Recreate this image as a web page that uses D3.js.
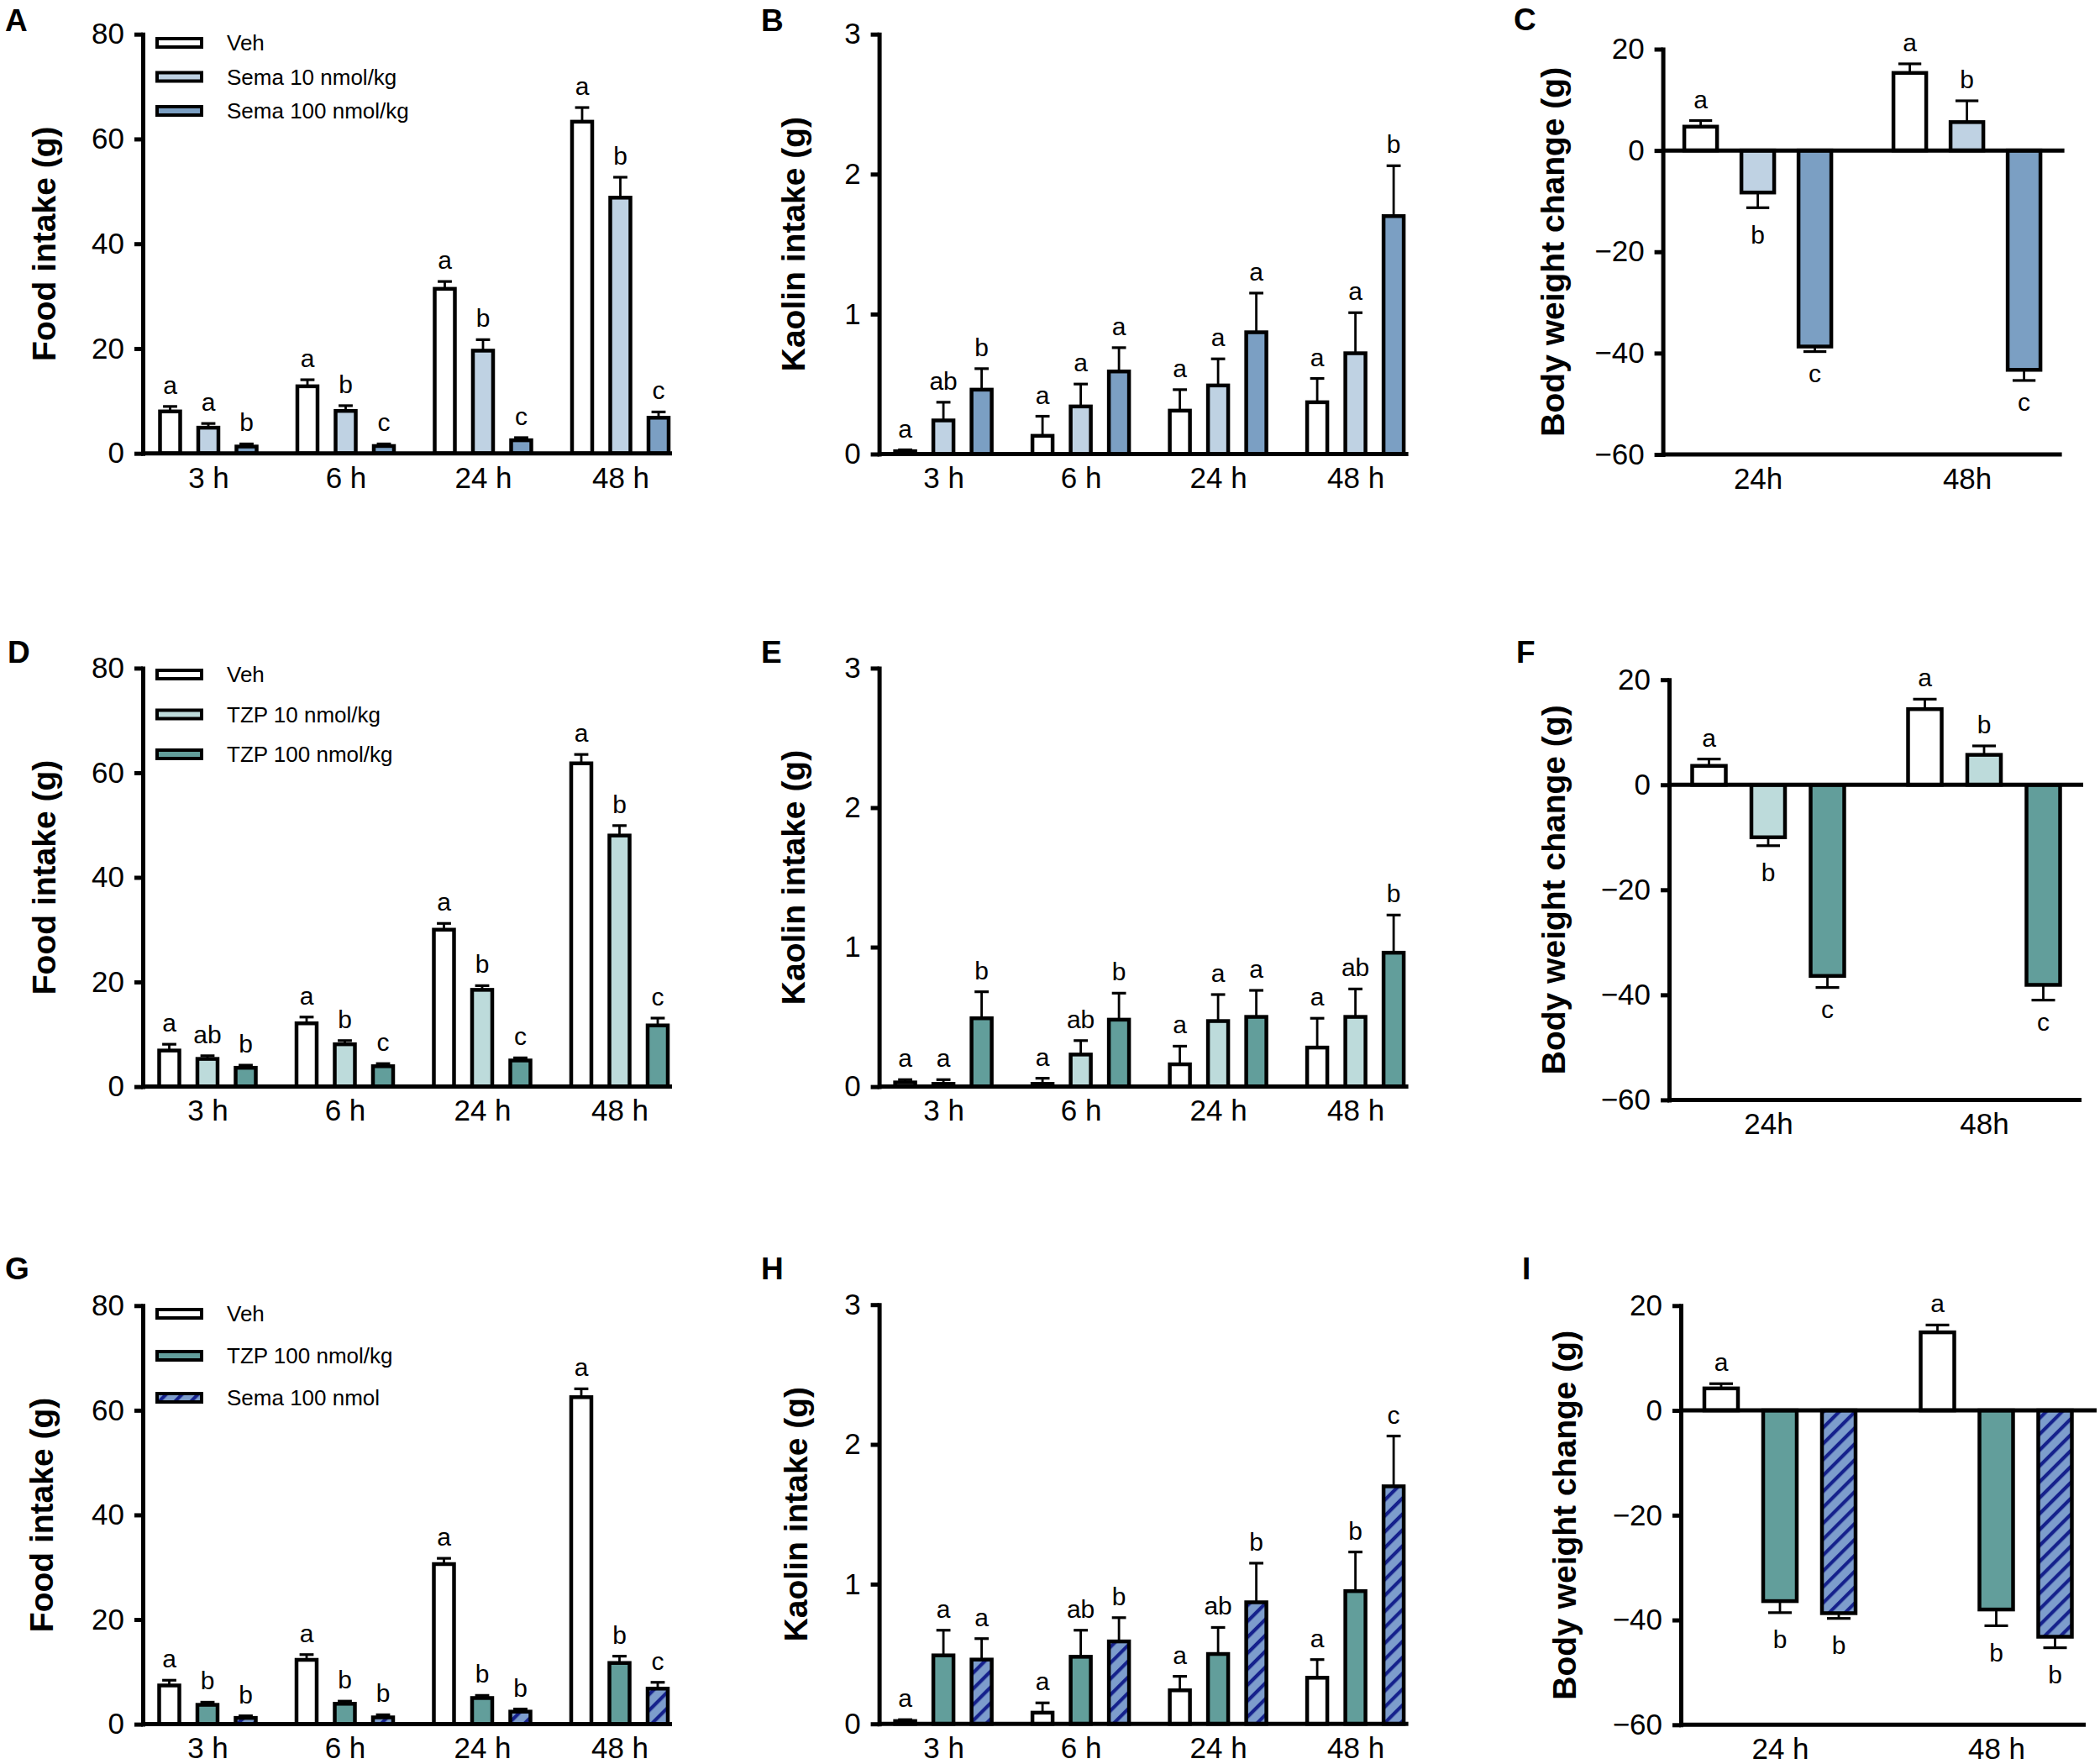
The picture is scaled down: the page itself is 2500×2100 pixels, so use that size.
<!DOCTYPE html>
<html>
<head>
<meta charset="utf-8">
<script src="https://cdn.jsdelivr.net/npm/d3@7"></script>
<style>
  body { margin: 0; background: #fff; }
</style>
</head>
<body>
<svg id="fig" width="2500" height="2100"></svg>
<script>
var FONT = "'Liberation Sans', Arial, Helvetica, sans-serif";

// ---- categories / ticks ----
var hours = ["3 h", "6 h", "24 h", "48 h"];
var daysC = ["24h", "48h"];
var daysI = ["24 h", "48 h"];
var foodTicks = [0, 20, 40, 60, 80];
var kaolinTicks = [0, 1, 2, 3];
var bwTicks = [-60, -40, -20, 0, 20];

// ---- colours ----
var cVeh = "#ffffff", cSemaLo = "#bfd2e3", cSemaHi = "#7b9fc3";
var cTzpLo = "#bddbdb", cTzpHi = "#629e9b";
var hatchFill = "#7d9dcc", hatchLine = "#15218c";

// ---- A: food intake, Sema ----
var foodVehA = [8.0, 12.8, 31.4, 63.3],   foodVehAErr = [0.95, 1.25, 1.4, 2.7];
var foodSemaLoA = [4.9, 8.1, 19.6, 48.8], foodSemaLoAErr = [0.8, 1.0, 2.1, 3.9];
var foodSemaHiA = [1.3, 1.4, 2.5, 6.8],   foodSemaHiAErr = [0.5, 0.4, 0.5, 1.1];
var lettersA = [["a","a","a","a"], ["a","b","b","b"], ["b","c","c","c"]];

// ---- B: kaolin, Sema ----
var kaoVehB = [0.02, 0.13, 0.31, 0.37],    kaoVehBErr = [0.01, 0.14, 0.15, 0.17];
var kaoSemaLoB = [0.24, 0.34, 0.49, 0.72], kaoSemaLoBErr = [0.13, 0.16, 0.19, 0.29];
var kaoSemaHiB = [0.46, 0.59, 0.87, 1.70], kaoSemaHiBErr = [0.15, 0.17, 0.28, 0.36];
var lettersB = [["a","a","a","a"], ["ab","a","a","a"], ["b","a","a","b"]];

// ---- C: body weight, Sema ----
var bwVehC = [4.7, 15.3],      bwVehCErr = [1.2, 1.8];
var bwSemaLoC = [-8.3, 5.6],   bwSemaLoCErr = [3.0, 4.2];
var bwSemaHiC = [-38.7, -43.3], bwSemaHiCErr = [1.0, 2.1];
var lettersC = [["a","a"], ["b","b"], ["c","c"]];

// ---- D: food intake, TZP ----
var foodVehD = [6.9, 12.1, 30.0, 61.8],  foodVehDErr = [1.2, 1.2, 1.2, 1.7];
var foodTzpLoD = [5.3, 8.1, 18.5, 48.0], foodTzpLoDErr = [0.6, 0.7, 0.8, 1.9];
var foodTzpHiD = [3.6, 3.9, 5.0, 11.7],  foodTzpHiDErr = [0.5, 0.5, 0.5, 1.4];
var lettersD = [["a","a","a","a"], ["ab","b","b","b"], ["b","c","c","c"]];

// ---- E: kaolin, TZP ----
var kaoVehE = [0.03, 0.02, 0.16, 0.28],   kaoVehEErr = [0.02, 0.04, 0.13, 0.21];
var kaoTzpLoE = [0.02, 0.23, 0.47, 0.50], kaoTzpLoEErr = [0.03, 0.10, 0.19, 0.20];
var kaoTzpHiE = [0.49, 0.48, 0.50, 0.96], kaoTzpHiEErr = [0.19, 0.19, 0.19, 0.27];
var lettersE = [["a","a","a","a"], ["a","ab","a","ab"], ["b","b","a","b"]];

// ---- F: body weight, TZP ----
var bwVehF = [3.6, 14.4],       bwVehFErr = [1.3, 1.9];
var bwTzpLoF = [-10.0, 5.7],    bwTzpLoFErr = [1.6, 1.7];
var bwTzpHiF = [-36.4, -38.1],  bwTzpHiFErr = [2.2, 2.9];
var lettersF = [["a","a"], ["b","b"], ["c","c"]];

// ---- G: food intake, TZP vs Sema ----
var foodVehG = [7.4, 12.3, 30.6, 62.5], foodVehGErr = [1.0, 1.0, 1.1, 1.6];
var foodTzpG = [3.7, 3.9, 5.0, 11.7],   foodTzpGErr = [0.5, 0.5, 0.5, 1.3];
var foodSemaG = [1.2, 1.3, 2.4, 6.8],   foodSemaGErr = [0.4, 0.5, 0.5, 1.2];
var lettersG = [["a","a","a","a"], ["b","b","b","b"], ["b","b","b","c"]];

// ---- H: kaolin, TZP vs Sema ----
var kaoVehH = [0.02, 0.08, 0.24, 0.33],  kaoVehHErr = [0.01, 0.07, 0.10, 0.13];
var kaoTzpH = [0.49, 0.48, 0.50, 0.95],  kaoTzpHErr = [0.18, 0.19, 0.19, 0.28];
var kaoSemaH = [0.46, 0.59, 0.87, 1.70], kaoSemaHErr = [0.15, 0.17, 0.28, 0.36];
var lettersH = [["a","a","a","a"], ["a","ab","ab","b"], ["a","b","b","c"]];

// ---- I: body weight, TZP vs Sema ----
var bwVehI = [4.2, 14.9],       bwVehIErr = [0.9, 1.4];
var bwTzpI = [-36.4, -38.0],    bwTzpIErr = [2.2, 3.1];
var bwSemaI = [-38.7, -43.2],   bwSemaIErr = [1.0, 2.1];
var lettersI = [["a","a"], ["b","b"], ["b","b"]];

var svg = d3.select("#fig");

// hatch for Sema in the last row
var pat = svg.append("defs").append("pattern")
    .attr("id", "hatch")
    .attr("patternUnits", "userSpaceOnUse")
    .attr("width", 13.4).attr("height", 13.4)
    .attr("patternTransform", "rotate(45)");
pat.append("rect").attr("width", 13.4).attr("height", 13.4).attr("fill", hatchFill);
pat.append("line").attr("x1", 3).attr("x2", 3).attr("y1", -1).attr("y2", 14.4)
    .attr("stroke", hatchLine).attr("stroke-width", 4.2);

var HATCH = "url(#hatch)";

// panel layouts (positions only)
var panels = [
  { tag: "A", tagX: 6, tagY: 37, axisX: 170, yTop: 40.7, yBot: 539.7, yDomain: [0, 80], ticks: foodTicks,
    cats: hours, first: 78, step: 163.5, off: 45.5, barW: 24, xLen: 630, titleOff: 104, title: "Food intake (g)",
    letters: lettersA, legendY: 51, legendDy: 40.5,
    series: [
      { name: "Veh", fill: cVeh, values: foodVehA, err: foodVehAErr },
      { name: "Sema 10 nmol/kg", fill: cSemaLo, values: foodSemaLoA, err: foodSemaLoAErr },
      { name: "Sema 100 nmol/kg", fill: cSemaHi, values: foodSemaHiA, err: foodSemaHiAErr }] },
  { tag: "B", tagX: 906, tagY: 37, axisX: 1046.6, yTop: 40.7, yBot: 540.5, yDomain: [0, 3], ticks: kaolinTicks,
    cats: hours, first: 76.5, step: 163.5, off: 45.5, barW: 24, xLen: 630, titleOff: 89, title: "Kaolin intake (g)",
    letters: lettersB,
    series: [
      { fill: cVeh, values: kaoVehB, err: kaoVehBErr },
      { fill: cSemaLo, values: kaoSemaLoB, err: kaoSemaLoBErr },
      { fill: cSemaHi, values: kaoSemaHiB, err: kaoSemaHiBErr }] },
  { tag: "C", tagX: 1802, tagY: 36, axisX: 1979.6, yTop: 58.5, yBot: 541, yDomain: [-60, 20], ticks: bwTicks,
    cats: daysC, first: 113, step: 249, off: 68, barW: 39, xLen: 478, bottomLen: 475, titleOff: 118,
    title: "Body weight change (g)", letters: lettersC,
    series: [
      { fill: cVeh, values: bwVehC, err: bwVehCErr },
      { fill: cSemaLo, values: bwSemaLoC, err: bwSemaLoCErr },
      { fill: cSemaHi, values: bwSemaHiC, err: bwSemaHiCErr }] },
  { tag: "D", tagX: 9, tagY: 789, axisX: 170, yTop: 795.4, yBot: 1293.6, yDomain: [0, 80], ticks: foodTicks,
    cats: hours, first: 77, step: 163.5, off: 45.5, barW: 24, xLen: 630, titleOff: 104, title: "Food intake (g)",
    letters: lettersD, legendY: 803, legendDy: 47.5,
    series: [
      { name: "Veh", fill: cVeh, values: foodVehD, err: foodVehDErr },
      { name: "TZP 10 nmol/kg", fill: cTzpLo, values: foodTzpLoD, err: foodTzpLoDErr },
      { name: "TZP 100 nmol/kg", fill: cTzpHi, values: foodTzpHiD, err: foodTzpHiDErr }] },
  { tag: "E", tagX: 906, tagY: 789, axisX: 1046.6, yTop: 795.4, yBot: 1293.6, yDomain: [0, 3], ticks: kaolinTicks,
    cats: hours, first: 76.5, step: 163.5, off: 45.5, barW: 24, xLen: 630, titleOff: 89, title: "Kaolin intake (g)",
    letters: lettersE,
    series: [
      { fill: cVeh, values: kaoVehE, err: kaoVehEErr },
      { fill: cTzpLo, values: kaoTzpLoE, err: kaoTzpLoEErr },
      { fill: cTzpHi, values: kaoTzpHiE, err: kaoTzpHiEErr }] },
  { tag: "F", tagX: 1805, tagY: 789, axisX: 1987, yTop: 809.2, yBot: 1309.4, yDomain: [-60, 20], ticks: bwTicks,
    cats: daysC, first: 118, step: 257, off: 70.5, barW: 40, xLen: 493, bottomLen: 491, titleOff: 124,
    title: "Body weight change (g)", letters: lettersF,
    series: [
      { fill: cVeh, values: bwVehF, err: bwVehFErr },
      { fill: cTzpLo, values: bwTzpLoF, err: bwTzpLoFErr },
      { fill: cTzpHi, values: bwTzpHiF, err: bwTzpHiFErr }] },
  { tag: "G", tagX: 6, tagY: 1523, axisX: 170, yTop: 1554.3, yBot: 2052.6, yDomain: [0, 80], ticks: foodTicks,
    cats: hours, first: 77, step: 163.5, off: 45.5, barW: 24, xLen: 630, titleOff: 107, title: "Food intake (g)",
    letters: lettersG, legendY: 1564, legendDy: 50,
    series: [
      { name: "Veh", fill: cVeh, values: foodVehG, err: foodVehGErr },
      { name: "TZP 100 nmol/kg", fill: cTzpHi, values: foodTzpG, err: foodTzpGErr },
      { name: "Sema 100 nmol", fill: HATCH, values: foodSemaG, err: foodSemaGErr }] },
  { tag: "H", tagX: 906, tagY: 1523, axisX: 1046.6, yTop: 1553.2, yBot: 2052.2, yDomain: [0, 3], ticks: kaolinTicks,
    cats: hours, first: 76.5, step: 163.5, off: 45.5, barW: 24, xLen: 630, titleOff: 86, title: "Kaolin intake (g)",
    letters: lettersH,
    series: [
      { fill: cVeh, values: kaoVehH, err: kaoVehHErr },
      { fill: cTzpHi, values: kaoTzpH, err: kaoTzpHErr },
      { fill: HATCH, values: kaoSemaH, err: kaoSemaHErr }] },
  { tag: "I", tagX: 1812, tagY: 1523, axisX: 2001, yTop: 1554.3, yBot: 2053.3, yDomain: [-60, 20], ticks: bwTicks,
    cats: daysI, first: 118, step: 257.5, off: 70, barW: 40, xLen: 495, bottomLen: 482, titleOff: 125,
    title: "Body weight change (g)", letters: lettersI,
    series: [
      { fill: cVeh, values: bwVehI, err: bwVehIErr },
      { fill: cTzpHi, values: bwTzpI, err: bwTzpIErr },
      { fill: HATCH, values: bwSemaI, err: bwSemaIErr }] }
];

function drawPanel(p) {
  var g = svg.append("g");
  var y = d3.scaleLinear().domain(p.yDomain).range([p.yBot, p.yTop]);
  var x = d3.scalePoint().domain(p.cats)
      .range([p.axisX + p.first, p.axisX + p.first + p.step * (p.cats.length - 1)]);
  var inner = d3.scaleBand().domain(d3.range(p.series.length))
      .range([-1.5 * p.off, 1.5 * p.off]);

  var rows = [];
  p.series.forEach(function(s, si) {
    s.values.forEach(function(v, ci) {
      rows.push({ cat: p.cats[ci], si: si, v: v, e: s.err[ci], fill: s.fill, lab: p.letters[si][ci] });
    });
  });
  function cx(d) { return x(d.cat) + inner(d.si) + inner.bandwidth() / 2; }
  function tip(d) { return d.v >= 0 ? y(d.v + d.e) : y(d.v - d.e); }
  var capW = p.barW * 0.7;

  // error bars first, bars drawn over their base
  var eb = g.append("g").attr("stroke", "#000").attr("fill", "none");
  eb.selectAll("line.v").data(rows).join("line").attr("class", "v")
      .attr("x1", cx).attr("x2", cx)
      .attr("y1", function(d) { return y(d.v); })
      .attr("y2", tip)
      .attr("stroke-width", 2.8);
  eb.selectAll("line.cap").data(rows).join("line").attr("class", "cap")
      .attr("x1", function(d) { return cx(d) - capW / 2; })
      .attr("x2", function(d) { return cx(d) + capW / 2; })
      .attr("y1", tip).attr("y2", tip)
      .attr("stroke-width", 3.2);

  g.append("g").selectAll("rect").data(rows).join("rect")
      .attr("x", function(d) { return cx(d) - p.barW / 2; })
      .attr("width", p.barW)
      .attr("y", function(d) { return Math.min(y(d.v), y(0)); })
      .attr("height", function(d) { return Math.abs(y(d.v) - y(0)); })
      .attr("fill", function(d) { return d.fill; })
      .attr("stroke", "#000").attr("stroke-width", 4.5);

  // significance letters
  g.append("g").selectAll("text").data(rows).join("text")
      .attr("x", cx)
      .attr("y", function(d) {
        if (d.v >= 0) return tip(d) - 15;
        var tall = d.lab.indexOf("b") >= 0 ? 21.5 : 15.5;
        return tip(d) + 21 + tall;
      })
      .attr("text-anchor", "middle")
      .attr("font-family", FONT).attr("font-size", 30)
      .text(function(d) { return d.lab; });

  // y axis
  var yAx = g.append("g").attr("transform", "translate(" + p.axisX + ",0)")
      .call(d3.axisLeft(y).tickValues(p.ticks).tickFormat(d3.format("d"))
        .tickSize(10).tickSizeOuter(0).tickPadding(12));
  yAx.attr("font-family", FONT).attr("font-size", 35);
  yAx.select(".domain").attr("stroke-width", 5).attr("stroke-linecap", "square");
  yAx.selectAll(".tick line").attr("stroke-width", 5);

  // zero line / baseline
  g.append("line").attr("x1", p.axisX).attr("x2", p.axisX + p.xLen)
      .attr("y1", y(0)).attr("y2", y(0))
      .attr("stroke", "#000").attr("stroke-width", 5);
  var baseY = y(p.yDomain[0]);
  if (p.bottomLen) {
    g.append("line").attr("x1", p.axisX).attr("x2", p.axisX + p.bottomLen)
        .attr("y1", baseY).attr("y2", baseY)
        .attr("stroke", "#000").attr("stroke-width", 5);
  }

  // category labels
  var xAx = g.append("g").attr("transform", "translate(0," + baseY + ")")
      .call(d3.axisBottom(x).tickSize(0).tickPadding(16));
  xAx.attr("font-family", FONT).attr("font-size", 35);
  xAx.select(".domain").remove();

  // axis title
  g.append("text")
      .attr("transform", "translate(" + (p.axisX - p.titleOff) + "," + ((p.yTop + p.yBot) / 2) + ") rotate(-90)")
      .attr("text-anchor", "middle")
      .attr("font-family", FONT).attr("font-size", 39).attr("font-weight", "bold")
      .text(p.title);

  // panel tag
  g.append("text").attr("x", p.tagX).attr("y", p.tagY)
      .attr("font-family", FONT).attr("font-size", 37).attr("font-weight", "bold")
      .text(p.tag);

  // legend
  if (p.legendY) {
    var lg = g.append("g");
    var items = lg.selectAll("g").data(p.series).join("g")
        .attr("transform", function(d, i) { return "translate(0," + (p.legendY + i * p.legendDy) + ")"; });
    items.append("rect").attr("x", 187).attr("y", -5).attr("width", 53).attr("height", 10)
        .attr("fill", function(d) { return d.fill; })
        .attr("stroke", "#000").attr("stroke-width", 4);
    items.append("text").attr("x", 270).attr("dy", "0.35em")
        .attr("font-family", FONT).attr("font-size", 26)
        .text(function(d) { return d.name; });
  }
}

panels.forEach(drawPanel);
</script>
</body>
</html>
